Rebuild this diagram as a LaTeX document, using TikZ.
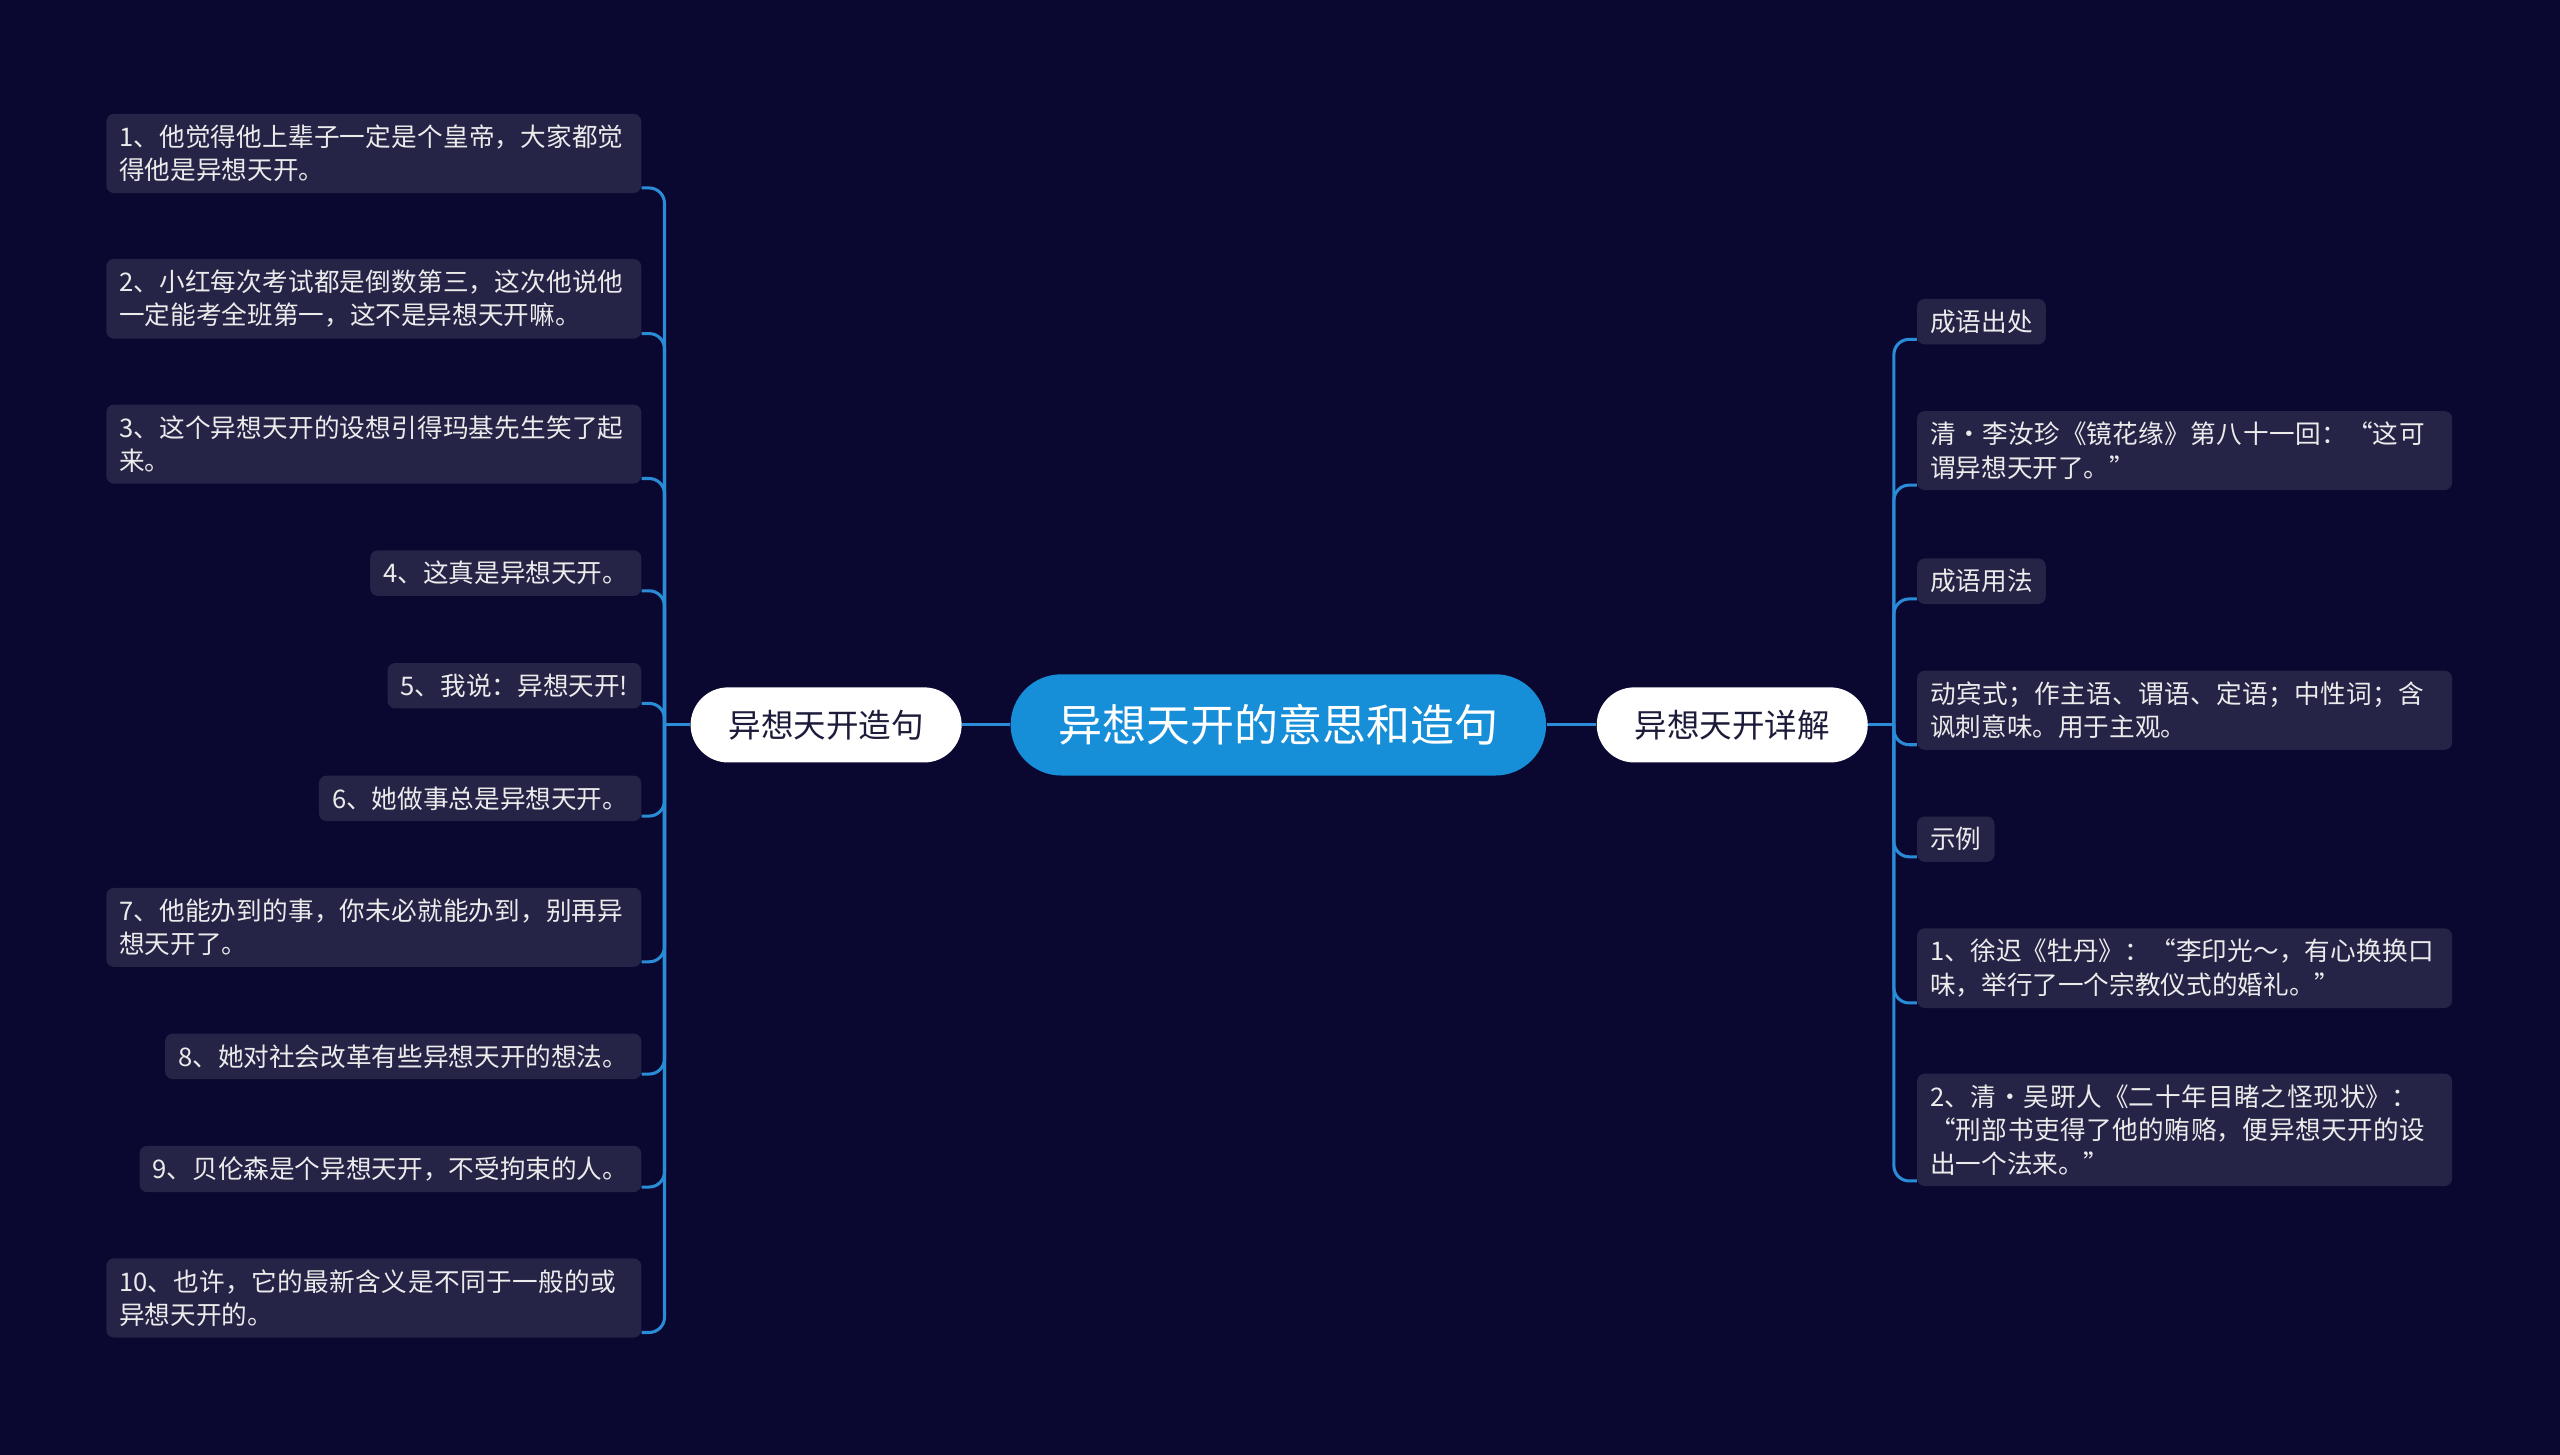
\documentclass[tikz,border=0pt]{standalone}
\usepackage{fontspec}
\setmainfont{Noto Sans CJK SC}
\XeTeXlinebreaklocale "zh"
\XeTeXlinebreakskip=0pt plus 1pt
\usetikzlibrary{positioning}
\definecolor{bgnavy}{HTML}{0A0830}
\definecolor{leaffill}{HTML}{252346}
\definecolor{linkblue}{HTML}{2A8BD6}
\definecolor{rootblue}{HTML}{168FD8}
\definecolor{branchtext}{HTML}{1C1B3A}
\tikzset{
  leaf/.style={fill=leaffill, rounded corners=4pt, text=white!92!black, align=left,
    inner xsep=0.24cm, inner ysep=0.2cm, font=\fontsize{13.4}{17.5}\selectfont},
  wide/.style={text width=9.35cm},
  branch/.style={fill=white, text=branchtext, rounded corners=0.69cm, minimum width=4.98cm,
    minimum height=1.38cm, font=\fontsize{17}{20}\selectfont},
  link/.style={draw=linkblue, line width=1.6pt, rounded corners=8pt},
}
\begin{document}
\begin{tikzpicture}[x=0.03cm,y=-0.03cm]
\fill[bgnavy] (0,0) rectangle (1568,891);

% root and branches
\node [fill=rootblue, text=white, rounded corners=0.93cm, minimum width=9.84cm,
  minimum height=1.86cm, font=\fontsize{23}{26}\selectfont] (root) at (783,444) {异想天开的意思和造句};
\node [branch] (lbranch) at (506,444) {异想天开造句};
\node [branch] (rbranch) at (1061,444) {异想天开详解};
\draw[link] (lbranch.east) -- (root.west);
\draw[link] (root.east) -- (rbranch.west);

\coordinate (ljoint) at (407,444);
\coordinate (rjoint) at (1160,444);

% left leaves
\node [leaf,wide,anchor=east] (l1) at (393,94) {1、他觉得他上辈子一定是个皇帝，大家都觉得他是异想天开。};
\node [leaf,wide,anchor=east] (l2) at (393,183) {2、小红每次考试都是倒数第三，这次他说他一定能考全班第一，这不是异想天开嘛。};
\node [leaf,wide,anchor=east] (l3) at (393,272) {3、这个异想天开的设想引得玛基先生笑了起来。};
\node [leaf,anchor=east] (l4) at (393,351) {4、这真是异想天开。};
\node [leaf,anchor=east] (l5) at (393,420) {5、我说：异想天开!};
\node [leaf,anchor=east] (l6) at (393,489) {6、她做事总是异想天开。};
\node [leaf,wide,anchor=east] (l7) at (393,568) {7、他能办到的事，你未必就能办到，别再异想天开了。};
\node [leaf,anchor=east] (l8) at (393,647) {8、她对社会改革有些异想天开的想法。};
\node [leaf,anchor=east] (l9) at (393,716) {9、贝伦森是个异想天开，不受拘束的人。};
\node [leaf,wide,anchor=east] (l10) at (393,795) {10、也许，它的最新含义是不同于一般的或异想天开的。};
\draw[link] (lbranch.west) -- (ljoint);
\foreach \n in {l1,l2,l3,l4,l5,l6,l7,l8,l9,l10}
  \draw[link] (ljoint) |- ([yshift=0.1cm]\n.south east);

% right leaves
\node [leaf,anchor=west] (r1) at (1174,197) {成语出处};
\node [leaf,wide,anchor=west] (r2) at (1174,276) {清·李汝珍《镜花缘》第八十一回：“这可谓异想天开了。”};
\node [leaf,anchor=west] (r3) at (1174,356) {成语用法};
\node [leaf,wide,anchor=west] (r4) at (1174,435) {动宾式；作主语、谓语、定语；中性词；含讽刺意味。用于主观。};
\node [leaf,anchor=west] (r5) at (1174,514) {示例};
\node [leaf,wide,anchor=west] (r6) at (1174,593) {1、徐迟《牡丹》：“李印光～，有心换换口味，举行了一个宗教仪式的婚礼。”};
\node [leaf,wide,anchor=west] (r7) at (1174,692) {2、清·吴趼人《二十年目睹之怪现状》：“刑部书吏得了他的贿赂，便异想天开的设出一个法来。”};
\draw[link] (rbranch.east) -- (rjoint);
\foreach \n in {r1,r2,r3,r4,r5,r6,r7}
  \draw[link] (rjoint) |- ([yshift=0.1cm]\n.south west);
\end{tikzpicture}
\end{document}
